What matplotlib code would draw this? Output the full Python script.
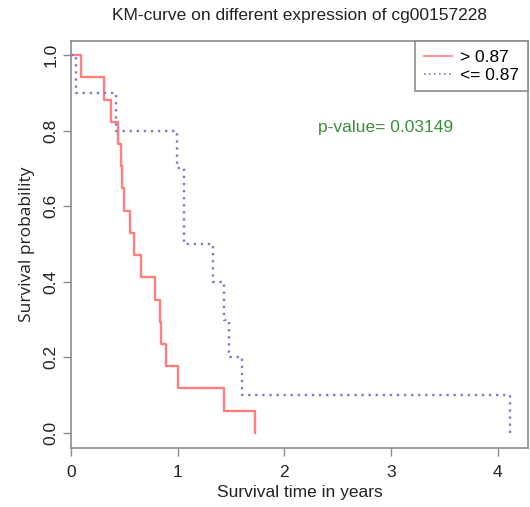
import numpy as np
import matplotlib.pyplot as plt

# KM step data
hi_times = [0, 0.094, 0.312, 0.372, 0.443, 0.465, 0.475, 0.497, 0.553, 0.593,
            0.653, 0.785, 0.832, 0.847, 0.888, 1.003, 1.43, 1.729]
hi_surv = [1.0, 0.941, 0.882, 0.824, 0.765, 0.706, 0.647, 0.588, 0.529, 0.471,
           0.412, 0.353, 0.294, 0.235, 0.176, 0.118, 0.059, 0.0]

lo_times = [0, 0.045, 0.419, 0.996, 1.059, 1.334, 1.434, 1.484, 1.60, 4.11]
lo_surv = [1.0, 0.9, 0.8, 0.7, 0.5, 0.4, 0.3, 0.2, 0.1, 0.0]

labels = ["> 0.87", "<= 0.87"]
pval = "p-value= 0.03149"
title = "KM-curve on different expression of cg00157228"

plt.rcParams['font.family'] = ['Liberation Sans', 'DejaVu Sans']

fig = plt.figure(figsize=(5.30, 5.07), dpi=100)
ax = fig.add_axes([71/530, 1 - 448/507, (528 - 71)/530, (448 - 41)/507])

red = '#ff7e7e'
blue = '#7c7cce'
grey = '#8c8c8c'

l1, = ax.step(hi_times, hi_surv, where='post', color=red, lw=1.7)
l2, = ax.step(lo_times, lo_surv, where='post', color=blue, lw=1.7,
              linestyle=(0, (1, 2)))

ax.set_xlim(0, 4.283)
ax.set_ylim(-0.0397, 1.037)
ax.set_xticks([0, 1, 2, 3, 4])
ax.set_yticks([0, 0.2, 0.4, 0.6, 0.8, 1.0])
ax.set_yticklabels(['0.0', '0.2', '0.4', '0.6', '0.8', '1.0'], rotation=90,
                   va='center')
ax.tick_params(direction='out', length=6, width=1, color=grey,
               labelsize=12.5, labelcolor='#222222', pad=3)
ax.tick_params(axis='x', pad=6)
for s in ax.spines.values():
    s.set_color(grey)
    s.set_linewidth(1.2)

ax.set_xlabel("Survival time in years", fontsize=12.5, color='#222222',
              labelpad=4)
ax.set_ylabel("Survival probability", fontsize=12.5, color='#222222',
              family=['Open Sans', 'DejaVu Sans'], labelpad=6)
ax.set_title(title, fontsize=12.5, color='#222222', pad=15)

ax.text(2.315, 0.807, pval, color='#3a8f3a', fontsize=12.5, va='center')

leg = ax.legend([l1, l2], labels, loc='upper right', borderaxespad=0,
                fancybox=False, framealpha=1, edgecolor=grey, fontsize=12.5,
                handlelength=1.6, handletextpad=0.5, borderpad=0.5,
                labelspacing=0.15)
leg.get_frame().set_linewidth(1.2)
for h in leg.get_lines():
    h.set_linewidth(1.2)

fig.savefig('out.png', dpi=100)
